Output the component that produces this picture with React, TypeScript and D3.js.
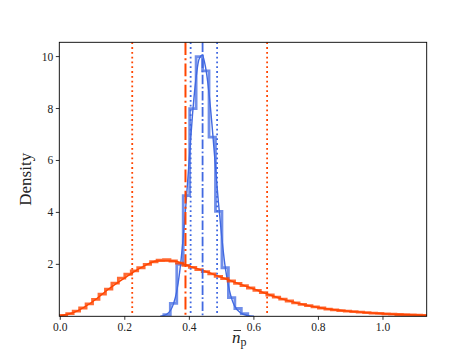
import React from "react";
import * as d3 from "d3";

// blue: narrow posterior, orange: broad prior (step histograms + smooth curves)
const blueStart = 0.321;
const binWidth = 0.02;
const blueHist = [0.06, 0.5, 2.0, 4.65, 8.0, 10.0, 9.45, 6.9, 4.04, 1.87, 0.72, 0.3, 0.1];

const orangeStart = 0.0;
const orangeHist = [
  0.03, 0.1, 0.2, 0.32, 0.48, 0.65, 0.85, 1.05, 1.28, 1.47, 1.62, 1.75, 1.87, 2.0, 2.1,
  2.16, 2.18, 2.13, 2.05, 1.96, 1.88, 1.8, 1.72, 1.63, 1.54, 1.45, 1.36, 1.27, 1.18, 1.09,
  1.0, 0.91, 0.82, 0.74, 0.66, 0.59, 0.52, 0.46, 0.41, 0.36, 0.32, 0.28, 0.25, 0.22, 0.2,
  0.18, 0.16, 0.14, 0.12, 0.11, 0.09, 0.08, 0.07, 0.06, 0.05, 0.04, 0.03,
];

const blueKdeX = [0.31, 0.33, 0.35, 0.36, 0.37, 0.38, 0.39, 0.4, 0.41, 0.42, 0.43, 0.44, 0.45, 0.46, 0.47, 0.48, 0.49, 0.5, 0.51, 0.52, 0.53, 0.54, 0.56, 0.58, 0.6];
const blueKdeY = [0.0, 0.08, 0.45, 0.9, 1.7, 2.9, 4.4, 6.1, 7.8, 9.1, 9.9, 10.05, 9.6, 8.7, 7.4, 5.9, 4.4, 3.1, 2.0, 1.25, 0.72, 0.4, 0.12, 0.03, 0.0];

const orangeKdeX = [0, 0.05, 0.1, 0.15, 0.2, 0.25, 0.3, 0.35, 0.4, 0.45, 0.5, 0.55, 0.6, 0.65, 0.7, 0.75, 0.8, 0.85, 0.9, 0.95, 1.0, 1.05, 1.1, 1.14];
const orangeKdeY = [0.02, 0.19, 0.56, 1.05, 1.48, 1.87, 2.13, 2.13, 1.93, 1.73, 1.5, 1.27, 1.05, 0.82, 0.62, 0.46, 0.34, 0.25, 0.19, 0.14, 0.1, 0.07, 0.05, 0.03];

// median (dash-dot) and credible bounds (dotted)
const blueLines = [0.404, 0.441, 0.486];
const orangeLines = [0.223, 0.388, 0.641];

const xTicks = [0, 0.2, 0.4, 0.6, 0.8, 1.0];
const yTicks = [2, 4, 6, 8, 10];

const BLUE = "#4169e1";
const ORANGE = "#ff4500";
const FONT = "Liberation Serif, DejaVu Serif, serif";

function stepPoints(start: number, vals: number[]): [number, number][] {
  const pts: [number, number][] = [[start, 0]];
  vals.forEach((v, i) => {
    pts.push([start + i * binWidth, v]);
    pts.push([start + (i + 1) * binWidth, v]);
  });
  pts.push([start + vals.length * binWidth, 0]);
  return pts;
}

export default function App() {
  const width = 474;
  const height = 354;
  const left = 59.3, right = 426.7, top = 42.3, bottom = 316.3;

  const x = d3.scaleLinear().domain([-0.003, 1.1355]).range([left, right]);
  const y = d3.scaleLinear().domain([0, 10.55]).range([bottom, top]);

  const line = d3.line<[number, number]>().x((d) => x(d[0])).y((d) => y(d[1]));
  const smooth = d3
    .line<[number, number]>()
    .x((d) => x(d[0]))
    .y((d) => y(d[1]))
    .curve(d3.curveMonotoneX);

  const blueKde = blueKdeX.map((v, i) => [v, blueKdeY[i]] as [number, number]);
  const orangeKde = orangeKdeX.map((v, i) => [v, orangeKdeY[i]] as [number, number]);

  const vline = (v: number, color: string, dash: string, w: number, key: string) => (
    <line
      key={key}
      x1={x(v)}
      x2={x(v)}
      y1={top}
      y2={bottom}
      stroke={color}
      strokeWidth={w}
      strokeDasharray={dash}
    />
  );

  const dotted = "1.8 3";

  return (
    <svg width={width} height={height} style={{ position: "absolute", left: 0, top: 0, background: "#fff" }}>
      <defs>
        <clipPath id="plot">
          <rect x={left} y={top} width={right - left} height={bottom - top} />
        </clipPath>
      </defs>
      <g clipPath="url(#plot)">
        <path d={line(stepPoints(blueStart, blueHist)) || ""} fill="none" stroke={BLUE} strokeWidth={2.8} strokeOpacity={0.75} />
        <path d={smooth(blueKde) || ""} fill="none" stroke={BLUE} strokeWidth={1.4} />
        <path d={line(stepPoints(orangeStart, orangeHist)) || ""} fill="none" stroke={ORANGE} strokeWidth={2.8} strokeOpacity={0.8} />
        <path d={smooth(orangeKde) || ""} fill="none" stroke={ORANGE} strokeWidth={1.4} />
        {vline(orangeLines[0], ORANGE, dotted, 1.8, "o0")}
        {vline(orangeLines[1], ORANGE, "12.8 3.2 2 3.2", 2, "o1")}
        {vline(orangeLines[2], ORANGE, dotted, 1.8, "o2")}
        {vline(blueLines[0], BLUE, dotted, 1.8, "b0")}
        {vline(blueLines[1], BLUE, "9.6 2.4 1.8 2.4", 1.8, "b1")}
        {vline(blueLines[2], BLUE, dotted, 1.8, "b2")}
      </g>
      <rect x={left} y={top} width={right - left} height={bottom - top} fill="none" stroke="#000" strokeWidth={0.9} />
      {xTicks.map((t) => (
        <g key={"x" + t}>
          <line x1={x(t)} x2={x(t)} y1={bottom} y2={bottom + 3.5} stroke="#000" strokeWidth={0.8} />
          <text x={x(t)} y={bottom + 14.5} textAnchor="middle" fontFamily={FONT} fontSize={11.5} fill="#222">
            {t.toFixed(1)}
          </text>
        </g>
      ))}
      {yTicks.map((t) => (
        <g key={"y" + t}>
          <line x1={left - 3.5} x2={left} y1={y(t)} y2={y(t)} stroke="#000" strokeWidth={0.8} />
          <text x={left - 6} y={y(t)} dy="0.35em" textAnchor="end" fontFamily={FONT} fontSize={11.5} fill="#222">
            {t}
          </text>
        </g>
      ))}
      <text
        transform={`translate(${31},${(top + bottom) / 2}) rotate(-90)`}
        textAnchor="middle"
        fontFamily={FONT}
        fontSize={17}
        fill="#222"
      >
        Density
      </text>
      <g transform={`translate(${232},${343})`}>
        <text textAnchor="start" fontFamily={FONT} fill="#222">
          <tspan fontStyle="italic" fontSize={17}>n</tspan>
          <tspan fontSize={12} dy={3}>p</tspan>
        </text>
        <line x1={1.5} x2={9} y1={-12.5} y2={-12.5} stroke="#222" strokeWidth={0.9} />
      </g>
    </svg>
  );
}
